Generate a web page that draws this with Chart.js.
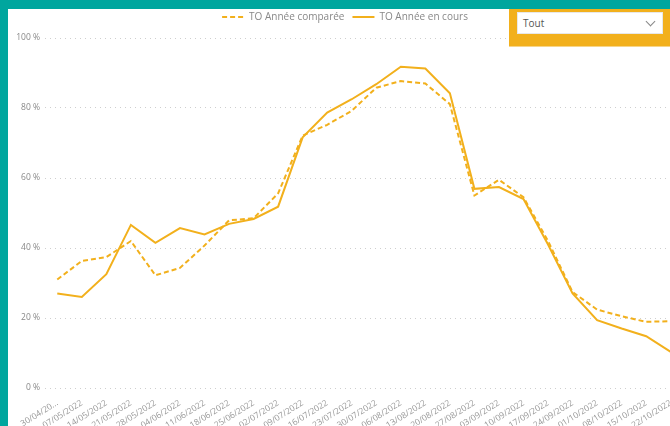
<!DOCTYPE html>
<html>
<head>
<meta charset="utf-8">
<script src="https://cdn.jsdelivr.net/npm/chart.js@4.4.0/dist/chart.umd.min.js"></script>
<style>
  html, body { margin: 0; padding: 0; background: #fff; }
  #wrap { position: relative; width: 670px; height: 426px; overflow: hidden; }
  #chart { position: absolute; left: 0; top: 0; }
  .teal-top { position: absolute; left: 0; top: 0; width: 670px; height: 9px; background: #00a69e; }
  .teal-left { position: absolute; left: 0; top: 0; width: 8px; height: 426px; background: #00a69e; }
  .slicer { position: absolute; left: 509px; top: 9px; width: 161px; height: 38px; background: #f2b01c; border-bottom: 1px solid #f7d588; box-sizing: border-box; }
  .slicer .box { position: absolute; left: 8px; top: 3px; width: 146px; height: 22px; background: #fff; border: 1px solid #e8e8e8; box-sizing: border-box; font: 10px "Open Sans", sans-serif; color: #555; line-height: 21px; padding-left: 5px; }
  .slicer .chev { position: absolute; right: 8px; top: 5px; width: 6px; height: 6px; border-right: 1px solid #888; border-bottom: 1px solid #888; transform: rotate(45deg); }
</style>
</head>
<body>
<div id="wrap">
  <!-- le visuel déborde à droite, comme dans le rapport -->
  <canvas id="chart" width="683" height="426"></canvas>
  <div class="teal-top"></div>
  <div class="teal-left"></div>
  <div class="slicer"><div class="box">Tout<div class="chev"></div></div></div>
</div>
<script>
// semaines (samedi)
const weeks = ['30/04/2022', '07/05/2022', '14/05/2022', '21/05/2022', '28/05/2022', '04/06/2022',
  '11/06/2022', '18/06/2022', '25/06/2022', '02/07/2022', '09/07/2022', '16/07/2022', '23/07/2022',
  '30/07/2022', '06/08/2022', '13/08/2022', '20/08/2022', '27/08/2022', '03/09/2022', '10/09/2022',
  '17/09/2022', '24/09/2022', '01/10/2022', '08/10/2022', '15/10/2022', '22/10/2022'];

// taux d'occupation (%)
const toCompared = [31.0, 36.3, 37.4, 42.0, 32.2, 34.3, 40.7, 47.9, 48.5, 55.6, 72.1, 75.2, 79.2,
  85.8, 87.7, 87.0, 81.1, 55.0, 59.5, 54.5, 42.0, 27.4, 22.4, 20.5, 18.9, 19.1];
const toCurrent = [27.0, 26.0, 32.5, 46.6, 41.5, 45.7, 43.9, 46.9, 48.3, 51.8, 71.6, 78.7, 82.5,
  86.8, 91.8, 91.3, 84.2, 56.9, 57.4, 54.0, 41.0, 27.0, 19.4, 17.0, 14.8, 10.3];

const yTicks = [0, 20, 40, 60, 80, 100];

const amber = '#f2b01c';
const font = '"Open Sans", sans-serif';

// petit espace en plus sous la légende
const legendGap = {
    id: 'legendGap',
    beforeInit(chart) {
        const fit = chart.legend.fit;
        chart.legend.fit = function () {
            fit.call(this);
            this.height += 6;
        };
    }
};

new Chart(document.getElementById('chart'), {
    type: 'line',
    data: {
        labels: weeks,
        datasets: [
            {
                label: 'TO Année comparée',
                data: toCompared,
                borderColor: amber,
                backgroundColor: amber,
                borderWidth: 2,
                borderDash: [5, 3],
                pointRadius: 0,
                tension: 0
            },
            {
                label: 'TO Année en cours',
                data: toCurrent,
                borderColor: amber,
                backgroundColor: amber,
                borderWidth: 2,
                pointRadius: 0,
                tension: 0
            }
        ]
    },
    plugins: [legendGap],
    options: {
        responsive: false,
        animation: false,
        layout: { padding: { left: 7, right: 0, top: 4, bottom: 0 } },
        plugins: {
            tooltip: { enabled: false },
            legend: {
                position: 'top',
                labels: {
                    usePointStyle: true,
                    pointStyle: 'line',
                    pointStyleWidth: 22,
                    padding: 8,
                    color: '#888',
                    font: { family: font, size: 10 },
                    generateLabels: chart => {
                        const items = Chart.defaults.plugins.legend.labels.generateLabels(chart);
                        items.forEach(it => {
                            it.lineDash = chart.data.datasets[it.datasetIndex].borderDash || [];
                        });
                        return items;
                    }
                }
            }
        },
        scales: {
            x: {
                offset: true,
                grid: { display: false },
                border: { display: false },
                ticks: {
                    autoSkip: false,
                    minRotation: 32,
                    maxRotation: 32,
                    padding: 2,
                    color: '#999',
                    font: { family: font, size: 8.5 },
                    callback: function (v, i) {
                        const s = this.getLabelForValue(v);
                        return i === 0 ? s.slice(0, 8) + '...' : s;
                    }
                },
                afterFit: s => { s.height = 38; s.paddingLeft = 0; s.paddingRight = 0; }
            },
            y: {
                min: 0,
                max: 100,
                border: { display: false, dash: [1, 4] },
                grid: { color: '#cfcfcf', drawTicks: false },
                ticks: {
                    stepSize: 20,
                    padding: 5,
                    color: '#888',
                    font: { family: font, size: 8.5 },
                    callback: v => yTicks.includes(v) ? v + ' %' : ''
                },
                afterFit: s => { s.width = 38; }
            }
        }
    }
});
</script>
</body>
</html>
